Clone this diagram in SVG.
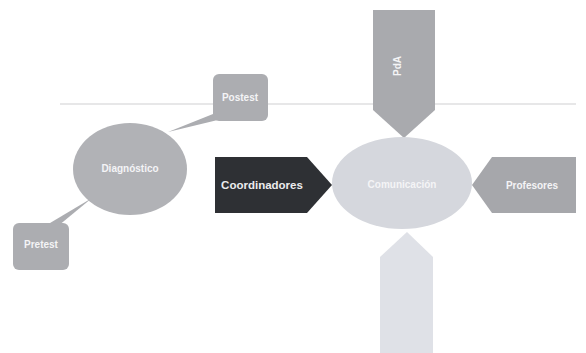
<svg xmlns="http://www.w3.org/2000/svg" width="586" height="353" viewBox="0 0 586 353">
<style>
.lbl{font-family:"Liberation Sans",Arial,sans-serif;font-size:10px;fill:#f4f4f6;text-anchor:middle;dominant-baseline:middle;font-weight:bold}
.mid{fill:#acadb1}
</style>
<rect width="586" height="353" fill="#ffffff"/>
<line x1="60" y1="104" x2="576" y2="104" stroke="#cfcfd2" stroke-width="1.2"/>
<g id="connectors">
<path d="M218,112 L226,118 L168,132 Z" class="mid"/>
<path d="M45,226 L58,226 L92,198 Z" class="mid"/>
</g>
<g id="diagnostico">
<ellipse cx="130" cy="169" rx="57" ry="46" fill="#b1b2b6"/>
<text x="130" y="169" class="lbl">Diagnóstico</text>
</g>
<g id="postest">
<rect x="213" y="74" width="55" height="47" rx="6" class="mid"/>
<text x="240" y="98" class="lbl">Postest</text>
</g>
<g id="pretest">
<rect x="13" y="223" width="56" height="47" rx="6" class="mid"/>
<text x="41" y="245" class="lbl">Pretest</text>
</g>
<g id="pda">
<path d="M373,10 L435,10 L435,110 L404,138 L373,110 Z" fill="#a9aaae"/>
<text x="0" y="0" class="lbl" transform="translate(398,66) rotate(-90)">PdA</text>
</g>
<g id="comunicacion">
<ellipse cx="402" cy="183" rx="70" ry="46" fill="#d5d7dd"/>
<text x="402" y="185" class="lbl">Comunicación</text>
</g>
<g id="coordinadores">
<path d="M215,157 L307,157 L332,185 L307,213 L215,213 Z" fill="#2e3034"/>
<text x="262" y="186" class="lbl" style="font-size:11.5px;fill:#ececee">Coordinadores</text>
</g>
<g id="profesores">
<path d="M472,185 L492,157 L576,157 L576,213 L492,213 Z" fill="#a6a7ab"/>
<text x="532" y="186" class="lbl">Profesores</text>
</g>
<g id="inferior">
<path d="M407,232 L433,257 L433,353 L380,353 L380,257 Z" fill="#dfe1e7"/>
</g>
</svg>
